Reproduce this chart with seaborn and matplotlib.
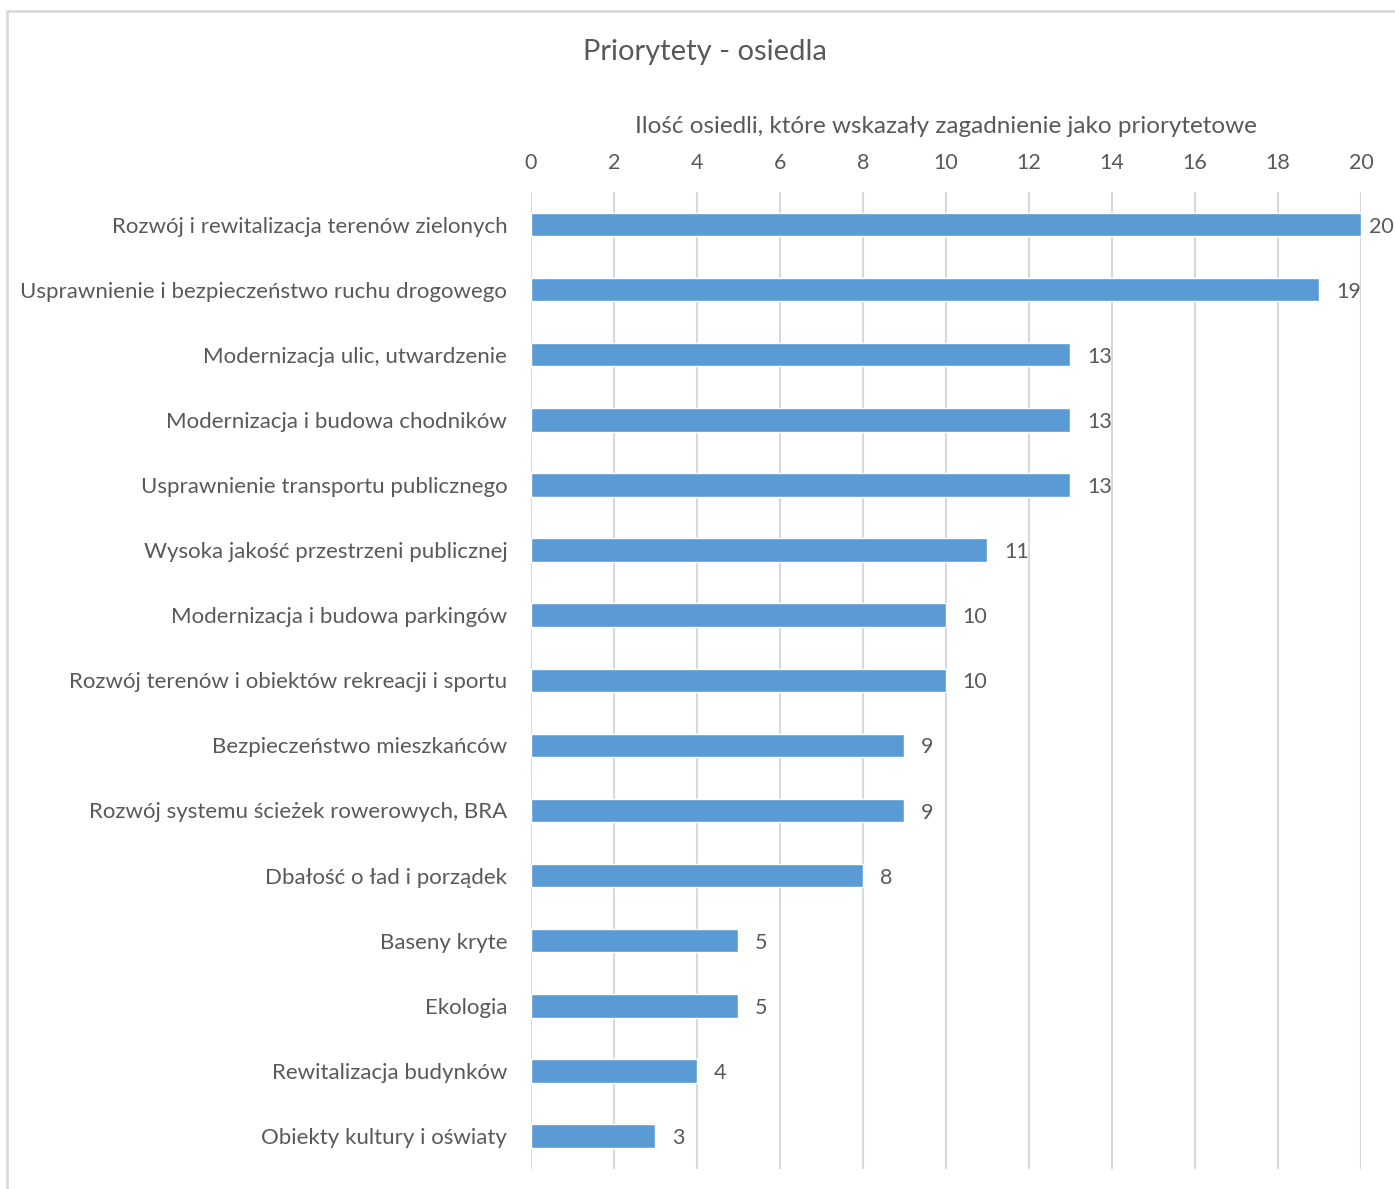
import pandas as pd
import seaborn as sns
import matplotlib.pyplot as plt
from matplotlib.patches import Rectangle

# Chart data
categories = [
    'Rozwój i rewitalizacja terenów zielonych',
    'Usprawnienie i bezpieczeństwo ruchu drogowego',
    'Modernizacja ulic, utwardzenie',
    'Modernizacja i budowa chodników',
    'Usprawnienie transportu publicznego',
    'Wysoka jakość przestrzeni publicznej',
    'Modernizacja i budowa parkingów',
    'Rozwój terenów i obiektów rekreacji i sportu',
    'Bezpieczeństwo mieszkańców',
    'Rozwój systemu ścieżek rowerowych, BRA',
    'Dbałość o ład i porządek',
    'Baseny kryte',
    'Ekologia',
    'Rewitalizacja budynków',
    'Obiekty kultury i oświaty',
]
counts = [20, 19, 13, 13, 13, 11, 10, 10, 9, 9, 8, 5, 5, 4, 3]
x_ticks = [0, 2, 4, 6, 8, 10, 12, 14, 16, 18, 20]

df = pd.DataFrame({'kategoria': categories, 'ilosc': counts})

sns.set_theme(style='white')
plt.rcParams['font.family'] = ['Lato', 'DejaVu Sans']
text_col = '#595959'
grid_col = '#D9D9D9'

fig = plt.figure(figsize=(13.95, 11.89), dpi=100)
ax = fig.add_axes([0.3806, 0.0172, 0.595, 0.8213])

sns.barplot(data=df, x='ilosc', y='kategoria', orient='h', color='#5B9BD5',
            saturation=1, width=0.36, ax=ax)

ax.set_xlim(0, 20)
ax.set_xticks(x_ticks)
ax.xaxis.tick_top()
ax.xaxis.set_label_position('top')
ax.set_xlabel('Ilość osiedli, które wskazały zagadnienie jako priorytetowe',
              fontsize=17.5, color=text_col, labelpad=14)
ax.set_ylabel('')
ax.tick_params(axis='x', length=0, labelsize=15.5, labelcolor=text_col, pad=14)
ax.tick_params(axis='y', length=0, labelsize=16, labelcolor=text_col, pad=17)
ax.grid(axis='x', color=grid_col, linewidth=1.5)
ax.set_axisbelow(True)
for s in ax.spines.values():
    s.set_visible(False)

labels = ax.bar_label(ax.containers[0], padding=12, fontsize=15.5, color=text_col)
for lab in labels:
    lab.xyann = (12, -1.5)
# the longest bar's label sits closer, as at the chart edge
labels[0].xyann = (6, -1.5)

fig.text(705 / 1395, 1 - 52 / 1189, 'Priorytety - osiedla', ha='center', va='center',
         fontsize=21, color=text_col)

# light frame around the chart area
fig.patches.append(Rectangle((7 / 1395, -0.1), 1.2, 1 - 11 / 1189 + 0.1,
                             transform=fig.transFigure, fill=False,
                             edgecolor=grid_col, linewidth=2))

fig.savefig('out.png', dpi=100)
